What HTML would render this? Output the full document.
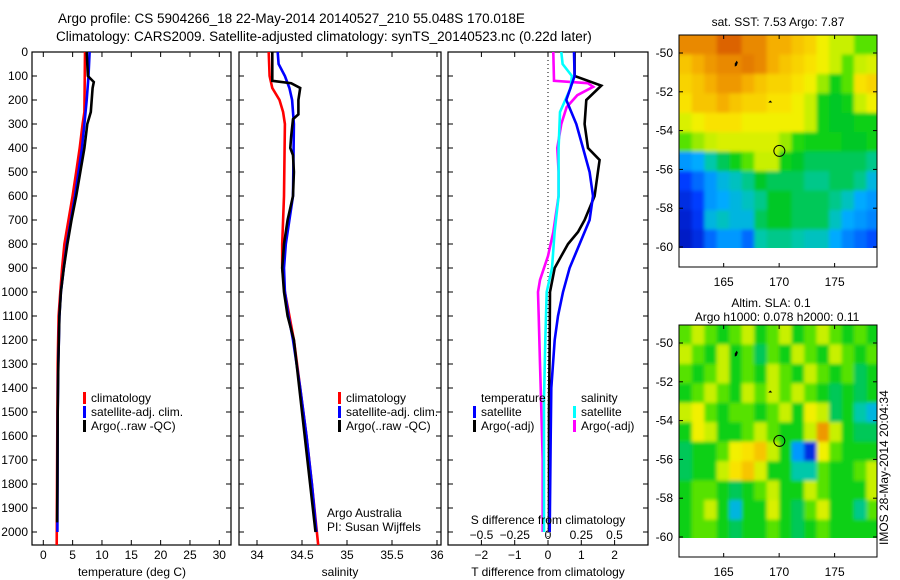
<!DOCTYPE html>
<html><head><meta charset="utf-8"><style>
html,body{margin:0;padding:0;background:#fff;}
svg{display:block;font-family:"Liberation Sans",sans-serif;}
text{font-size:12px;fill:#000;}
</style></head><body>
<svg id="fig" width="900" height="580" viewBox="0 0 900 580">
<defs>
<filter id="blur" x="0" y="0" width="1" height="1"><feGaussianBlur stdDeviation="1.8"/></filter>
<clipPath id="clip1"><rect x="679" y="35" width="198" height="213"/></clipPath>
<clipPath id="clip2"><rect x="679" y="325" width="198" height="213"/></clipPath>
</defs>
<text x="58" y="23" style="font-size:13.5px">Argo profile: CS 5904266_18 22-May-2014 20140527_210 55.048S 170.018E</text>
<text x="56" y="41" style="font-size:13.5px">Climatology: CARS2009. Satellite-adjusted climatology: synTS_20140523.nc (0.22d later)</text>
<g id="g"></g>
</svg>
<script>
// ---- depth data (m) ----
const depthTclim=[0,250,300,400,500,600,700,800,900,1000,1100,1300,1500,2054];
const tempClim=[7.1,7.0,6.7,6.2,5.6,5.0,4.3,3.6,3.2,2.9,2.6,2.45,2.4,2.28];
const depthTsat=[0,100,200,300,400,500,600,700,800,900,1000,1100,1300,1500,2000];
const tempSat=[7.9,7.7,7.4,7.0,6.6,6.0,5.4,4.7,4.0,3.5,3.0,2.75,2.55,2.45,2.4];
const depthTargo=[0,100,125,150,250,300,400,500,600,700,800,900,1000,1100,1300,1500,1800,1960];
const tempArgo=[7.4,7.6,8.6,8.4,8.1,7.5,7.0,6.3,5.6,4.8,4.1,3.5,3.0,2.75,2.55,2.45,2.4,2.35];

const depthSclim=[0,100,150,200,250,300,600,800,900,1000,1100,1200,1400,1600,1800,2054];
const salClim=[34.13,34.14,34.17,34.25,34.29,34.31,34.30,34.28,34.28,34.31,34.36,34.41,34.48,34.55,34.61,34.68];
const depthSsat=[0,50,100,150,200,300,600,800,900,1000,1100,1200,1400,1600,1800,2000];
const salSat=[34.23,34.24,34.31,34.36,34.39,34.41,34.40,34.32,34.30,34.31,34.35,34.40,34.48,34.55,34.61,34.66];
const depthSargo=[0,120,130,150,200,260,280,350,400,430,500,600,700,800,900,1000,1100,1200,1400,1600,1800,2000];
const salArgo=[34.17,34.17,34.38,34.48,34.46,34.46,34.40,34.38,34.37,34.40,34.41,34.40,34.34,34.30,34.28,34.30,34.34,34.41,34.47,34.53,34.59,34.65];

const depthDTsat=[0,100,200,300,400,500,600,700,750,800,900,1000,1100,1200,1400,1600,2000];
const dTsat=[0.78,0.8,0.55,0.85,1.05,1.25,1.35,1.25,1.1,0.95,0.65,0.45,0.3,0.2,0.1,0.08,0.05];
const depthDTargo=[0,100,140,200,300,400,450,500,600,700,750,800,850,900,1000,1200,1500,2000];
const dTargo=[0.8,0.8,1.6,1.15,1.1,1.2,1.55,1.5,1.4,1.1,0.9,0.6,0.4,0.2,0.06,0.05,0.03,0.03];
const depthDSsat=[0,50,100,150,200,250,400,600,750,900,1000,1200,1450,2000];
const dSsat=[0.1,0.11,0.18,0.17,0.13,0.09,0.08,0.08,0.05,0.03,-0.01,-0.02,-0.03,-0.03];
const depthDSargo=[0,120,130,145,180,230,300,400,500,600,750,850,950,1000,1100,1300,1500,1700,2000];
const dSargo=[0.04,0.045,0.3,0.34,0.22,0.14,0.1,0.07,0.08,0.08,0.04,0.0,-0.06,-0.075,-0.07,-0.06,-0.05,-0.04,-0.04];

const depthTicks=[0,100,200,300,400,500,600,700,800,900,1000,1100,1200,1300,1400,1500,1600,1700,1800,1900,2000];
const tempTicks=[0,5,10,15,20,25,30];
const salTicks=[34,34.5,35,35.5,36];
const dTTicks=[-2,-1,0,1,2];
const dSTicks=[-0.5,-0.25,0,0.25,0.5];
const dSTickLabels=["\u22120.5","\u22120.25","0","0.25","0.5"];
const dTTickLabels=["\u22122","\u22121","0","1","2"];

// ---- map data (colour index 0..1), rows lat -49.5..-59.5, cols lon 161..179 ----
const sstGrid=[
[0.8,0.8,0.8,0.85,0.85,0.8,0.8,0.75,0.75,0.72,0.7,0.65,0.6,0.6,0.55,0.55],
[0.72,0.75,0.78,0.8,0.8,0.82,0.8,0.75,0.72,0.7,0.68,0.65,0.6,0.55,0.6,0.62],
[0.7,0.72,0.75,0.78,0.78,0.75,0.72,0.7,0.7,0.68,0.65,0.58,0.5,0.55,0.68,0.7],
[0.68,0.72,0.72,0.75,0.72,0.7,0.7,0.68,0.68,0.65,0.6,0.5,0.48,0.5,0.6,0.65],
[0.62,0.65,0.68,0.68,0.68,0.65,0.65,0.65,0.65,0.65,0.6,0.5,0.48,0.48,0.5,0.5],
[0.55,0.58,0.6,0.62,0.62,0.62,0.62,0.62,0.58,0.52,0.5,0.5,0.5,0.48,0.48,0.5],
[0.3,0.32,0.4,0.45,0.5,0.55,0.6,0.6,0.5,0.48,0.45,0.45,0.45,0.45,0.45,0.42],
[0.2,0.25,0.3,0.35,0.38,0.42,0.48,0.45,0.45,0.45,0.42,0.42,0.45,0.45,0.42,0.35],
[0.15,0.2,0.3,0.32,0.35,0.38,0.42,0.48,0.48,0.45,0.45,0.45,0.42,0.38,0.32,0.3],
[0.12,0.18,0.35,0.38,0.35,0.35,0.45,0.48,0.48,0.45,0.45,0.45,0.38,0.32,0.3,0.28],
[0.1,0.15,0.25,0.3,0.3,0.25,0.4,0.42,0.42,0.4,0.38,0.38,0.32,0.28,0.25,0.22]];
const slaGrid=[
[0.55,0.6,0.55,0.5,0.55,0.6,0.5,0.55,0.6,0.5,0.55,0.6,0.55,0.5,0.55,0.5],
[0.6,0.55,0.5,0.6,0.5,0.55,0.45,0.55,0.5,0.6,0.55,0.5,0.6,0.55,0.5,0.55],
[0.55,0.5,0.55,0.6,0.5,0.55,0.5,0.6,0.55,0.5,0.6,0.55,0.5,0.55,0.45,0.5],
[0.5,0.55,0.6,0.55,0.5,0.6,0.55,0.6,0.55,0.6,0.55,0.5,0.45,0.5,0.45,0.5],
[0.6,0.65,0.55,0.5,0.55,0.55,0.5,0.55,0.6,0.5,0.65,0.6,0.45,0.5,0.4,0.35],
[0.5,0.65,0.6,0.5,0.5,0.55,0.6,0.55,0.5,0.5,0.6,0.78,0.6,0.5,0.45,0.45],
[0.45,0.5,0.5,0.55,0.65,0.68,0.72,0.6,0.5,0.3,0.15,0.65,0.55,0.5,0.5,0.5],
[0.45,0.5,0.5,0.6,0.68,0.72,0.62,0.5,0.5,0.4,0.4,0.55,0.5,0.5,0.55,0.6],
[0.5,0.55,0.55,0.5,0.45,0.5,0.55,0.6,0.5,0.5,0.6,0.55,0.5,0.5,0.5,0.6],
[0.5,0.55,0.6,0.5,0.35,0.5,0.5,0.62,0.5,0.45,0.55,0.62,0.5,0.5,0.42,0.55],
[0.5,0.55,0.55,0.5,0.45,0.5,0.5,0.55,0.5,0.45,0.5,0.55,0.5,0.5,0.5,0.5]];
const lonTicks=[165,170,175];
const latTicks=[-50,-52,-54,-56,-58,-60];
const floatLon=170.018, floatLat=-55.048;

const NS="http://www.w3.org/2000/svg";
const G=document.getElementById('g');
function mk(tag,attrs,parent){const e=document.createElementNS(NS,tag);for(const k in attrs)e.setAttribute(k,attrs[k]);(parent||G).appendChild(e);return e;}
function txt(x,y,s,anchor,parent){const t=mk('text',{x:x,y:y,'text-anchor':anchor||'start'},parent);t.textContent=s;return t;}

const TOP=52,BOT=545;
const yD=d=>TOP+d*0.24;
function lin(d0,d1,r0,r1){return v=>r0+(v-d0)*(r1-r0)/(d1-d0);}

function panel(x0,x1,name){
  const r=mk('rect',{x:x0,y:TOP,width:x1-x0,height:BOT-TOP,fill:'none',stroke:'#000','stroke-width':1.2});
  
  
  depthTicks.forEach(d=>{mk('line',{x1:x0,x2:x0+5,y1:yD(d),y2:yD(d),stroke:'#000'});mk('line',{x1:x1,x2:x1-5,y1:yD(d),y2:yD(d),stroke:'#000'});});
}
function xticks(vals,sx,x0,labels,ly,name){
  vals.forEach((v,i)=>{const x=sx(v);
    mk('line',{x1:x,x2:x,y1:BOT,y2:BOT-5,stroke:'#000'});
    mk('line',{x1:x,x2:x,y1:TOP,y2:TOP+5,stroke:'#000'});
    const t=txt(x,ly,labels?labels[i]:String(v),'middle');
    
    });
}
function line(xs,ds,sx,color,name){
  const pts=xs.map((v,i)=>sx(v).toFixed(1)+','+yD(ds[i]).toFixed(1)).join(' ');
  const p=mk('polyline',{points:pts,fill:'none',stroke:color,'stroke-width':2.6,'stroke-linejoin':'miter'});
  
  
}
function legend(x,y,color,label,name){
  mk('rect',{x:x,y:y-6,width:3,height:12,fill:color});
  const t=txt(x+8,y+4,label);
  
  
}

depthTicks.forEach(d=>{const t=txt(28,yD(d)+4,String(d),'end');
  
  });

// Panel 1 temperature
const sT=lin(0,30,43.3,219.3);
panel(32,231,'temperature-panel');
xticks(tempTicks,sT,32,null,559,'temperature-tick-label');
line(tempClim,depthTclim,sT,'#ff0000','temp-climatology-line');
line(tempSat,depthTsat,sT,'#0000ff','temp-satellite-line');
line(tempArgo,depthTargo,sT,'#000000','temp-argo-line');
legend(83,398,'#ff0000','climatology','legend-climatology');
legend(83,412,'#0000ff','satellite-adj. clim.','legend-satellite-adj');
legend(83,426,'#000','Argo(..raw -QC)','legend-argo');
{const t=txt(132,576,'temperature (deg C)','middle');}

// Panel 2 salinity
const sS=lin(34,35,257,347);
panel(239,441,'salinity-panel');
xticks(salTicks,sS,239,null,559,'salinity-tick-label');
line(salClim,depthSclim,sS,'#ff0000','sal-climatology-line');
line(salSat,depthSsat,sS,'#0000ff','sal-satellite-line');
line(salArgo,depthSargo,sS,'#000000','sal-argo-line');
legend(338,398,'#ff0000','climatology','legend-climatology-2');
legend(338,412,'#0000ff','satellite-adj. clim.','legend-satellite-adj-2');
legend(338,426,'#000','Argo(..raw -QC)','legend-argo-2');
{let t=txt(327,517,'Argo Australia');
 t=txt(327,531,'PI: Susan Wijffels');
 t=txt(340,576,'salinity','middle');}

// Panel 3 differences
const sDT=lin(0,1,548,581.3);
const sDS=lin(0,1,548,681);
panel(448,648,'difference-panel');
mk('line',{x1:548,x2:548,y1:TOP,y2:BOT,stroke:'#000','stroke-dasharray':'1,3'});
xticks(dTTicks,sDT,448,dTTickLabels,559,'t-diff-tick-label');
dSTicks.forEach((v,i)=>{const t=txt(sDS(v),539,dSTickLabels[i],'middle');});
line(dSargo,depthDSargo,sDS,'#ff00ff','s-diff-argo-line');
line(dSsat,depthDSsat,sDS,'#00ffff','s-diff-satellite-line');
line(dTargo,depthDTargo,sDT,'#000000','t-diff-argo-line');
line(dTsat,depthDTsat,sDT,'#0000ff','t-diff-satellite-line');
{let t=txt(481,402,'temperature');
 t=txt(581,402,'salinity');}
legend(473,412,'#0000ff','satellite','legend-t-satellite');
legend(473,426,'#000','Argo(-adj)','legend-t-argo');
legend(573,412,'#00ffff','satellite','legend-s-satellite');
legend(573,426,'#ff00ff','Argo(-adj)','legend-s-argo');
{let t=txt(548,524,'S difference from climatology','middle');
 t=txt(548,576,'T difference from climatology','middle');}

// Maps colormap
const cmapStops=[[0,[0,0,140]],[0.2,[0,60,255]],[0.32,[0,170,255]],[0.4,[0,200,170]],[0.48,[0,200,40]],[0.53,[40,220,0]],[0.6,[200,240,0]],[0.66,[250,240,0]],[0.75,[245,175,0]],[0.85,[220,100,0]],[1,[170,0,0]]];
function cmap(v){v=Math.max(0,Math.min(1,v));
  for(let k=1;k<cmapStops.length;k++){const [a,ca]=cmapStops[k-1],[b,cb]=cmapStops[k];
    if(v<=b){const f=(v-a)/(b-a);return 'rgb('+ca.map((c,i)=>Math.round(c+(cb[i]-c)*f)).join(',')+')';}}
  return 'rgb(170,0,0)';}
function drawMap(oy,grid,name,titleLines,clipId){
  const sx=lin(161,179,679.3,879);
  const sy=lin(-50,-60,53+oy,247+oy);
  const gg=mk('g',{});
  
  
  const clipG=mk('g',{'clip-path':'url(#'+clipId+')'},gg);
  const cells=mk('g',{filter:'url(#blur)'},clipG);
  const nc=grid[0].length;
  const lonStep=(179-161)/nc;
  grid.forEach((row,i)=>row.forEach((v,j)=>{
    let x=sx(161+j*lonStep),y=sy(-49.07-i*1.003);
    let w=sx(161+(j+1)*lonStep)-x+0.5,h=sy(-49.07-(i+1)*1.003)-y+0.5;
    if(j===0){x-=8;w+=8;} if(j===nc-1){w+=8;}
    if(i===0){y-=8;h+=8;} if(i===grid.length-1){h+=8;}
    const c=mk('rect',{x:x.toFixed(1),y:y.toFixed(1),width:w.toFixed(1),height:h.toFixed(1),fill:cmap(v)},cells);
    
    
  }));
  mk('path',{d:'M'+sx(166)+','+sy(-50.55)+' l2,-3 l1,2 l-1,3 l-2,1 z',fill:'#000'},gg);
  mk('path',{d:'M'+(sx(169.2)-2)+','+sy(-52.55)+' l2,-2 l2,2 z',fill:'#000'},gg);
  const c=mk('circle',{cx:sx(floatLon),cy:sy(floatLat),r:5.5,fill:'none',stroke:'#000','stroke-width':1},gg);
  
  
  mk('rect',{x:679,y:35+oy,width:198,height:232,fill:'none',stroke:'#000','stroke-width':1},gg);
  lonTicks.forEach(l=>{const x=sx(l);mk('line',{x1:x,x2:x,y1:267+oy,y2:263+oy,stroke:'#000'});mk('line',{x1:x,x2:x,y1:35+oy,y2:39+oy,stroke:'#000'});
    const t=txt(x,286+oy,String(l),'middle');});
  latTicks.forEach(l=>{const y=sy(l);mk('line',{x1:679,x2:683,y1:y,y2:y,stroke:'#000'});mk('line',{x1:877,x2:873,y1:y,y2:y,stroke:'#000'});
    const t=txt(673,y+4,String(l),'end');});
  titleLines.forEach(([s,x,y])=>{const t=txt(x,y,s,'middle');});
}
drawMap(0,sstGrid,'sst-map',[['sat. SST: 7.53 Argo: 7.87',778,26]],'clip1');
drawMap(290,slaGrid,'sla-map',[['Altim. SLA: 0.1',771,307],['Argo h1000: 0.078 h2000: 0.11',777,321]],'clip2');
{const t=txt(0,0,'IMOS 28-May-2014 20:04:34','start');
 t.setAttribute('transform','translate(888,545) rotate(-90)');
 
 }
</script>
</body></html>
